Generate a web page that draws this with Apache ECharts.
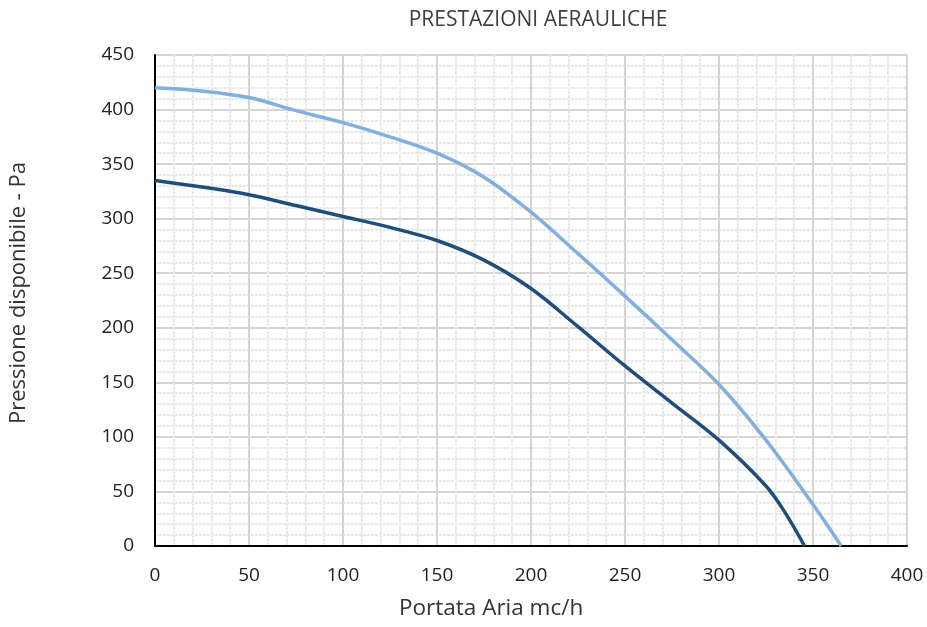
<!DOCTYPE html>
<html>
<head>
<meta charset="utf-8">
<script src="https://cdn.jsdelivr.net/npm/echarts@6/dist/echarts.min.js"></script>
<style>html,body{margin:0;padding:0;background:#fff}#c{width:927px;height:627px}</style>
</head>
<body>
<div id="c"></div>
<script>
const titleText = 'PRESTAZIONI AERAULICHE';
const xName = 'Portata Aria mc/h';
const yName = 'Pressione disponibile - Pa';
const lightX = [0, 25, 50, 75, 100, 125, 150, 175, 200, 225, 250, 275, 300, 325, 350, 365];
const lightY = [420, 417, 411, 399, 388, 375, 360, 338, 306, 268, 229, 189, 148, 97, 38, 0];
const darkX = [0, 25, 50, 75, 100, 125, 150, 175, 200, 225, 250, 275, 300, 325, 335, 345.5];
const darkY = [335, 329, 322, 312, 302, 292, 280, 262, 236, 201, 165, 131, 97, 55, 31, 0];

const zip = (xs, ys) => xs.map((x, i) => [x, ys[i]]);
const chart = echarts.init(document.getElementById('c'));
const font = '"Open Sans", "Noto Sans", sans-serif';
chart.setOption({
  animation: false,
  title: {
    text: titleText, left: 533, top: 5, textAlign: 'center',
    textStyle: { fontFamily: font, fontSize: 21, fontWeight: 'normal', color: '#404040' }
  },
  grid: { left: 155, right: 20, top: 55, bottom: 81 },
  xAxis: {
    type: 'value', min: 0, max: 400, interval: 50,
    axisLine: { show: true, onZero: false, lineStyle: { color: '#000', width: 2 } },
    axisTick: { show: false },
    axisLabel: { fontFamily: font, fontSize: 19, color: '#222', margin: 20 },
    splitLine: { show: true, lineStyle: { color: '#d4d4d4', width: 2 } },
    minorTick: { show: false, splitNumber: 5 },
    minorSplitLine: { show: true, lineStyle: { color: '#e8e8e8', width: 2, type: [3, 1] } }
  },
  yAxis: {
    type: 'value', min: 0, max: 450, interval: 50,
    axisLine: { show: true, lineStyle: { color: '#000', width: 2 } },
    axisTick: { show: false },
    axisLabel: { fontFamily: font, fontSize: 19, color: '#222', margin: 21 },
    splitLine: { show: true, lineStyle: { color: '#d4d4d4', width: 2 } },
    minorTick: { show: false, splitNumber: 5 },
    minorSplitLine: { show: true, lineStyle: { color: '#e8e8e8', width: 2, type: [3, 1] } }
  },
  graphic: [
    { type: 'text', left: 399, top: 597, style: { text: xName, fontFamily: font, fontSize: 22.5, fill: '#333' } },
    { type: 'text', x: 8, y: 293, rotation: Math.PI / 2, style: { text: yName, fontFamily: font, fontSize: 22, fill: '#333', align: 'center', verticalAlign: 'top' } }
  ],
  series: [
    { type: 'line', data: zip(lightX, lightY), smooth: 0.35, showSymbol: false, lineStyle: { color: '#80afe0', width: 3.5 } },
    { type: 'line', data: zip(darkX, darkY), smooth: 0.35, showSymbol: false, lineStyle: { color: '#1f4e7c', width: 3.5 } }
  ]
});
</script>
</body>
</html>
